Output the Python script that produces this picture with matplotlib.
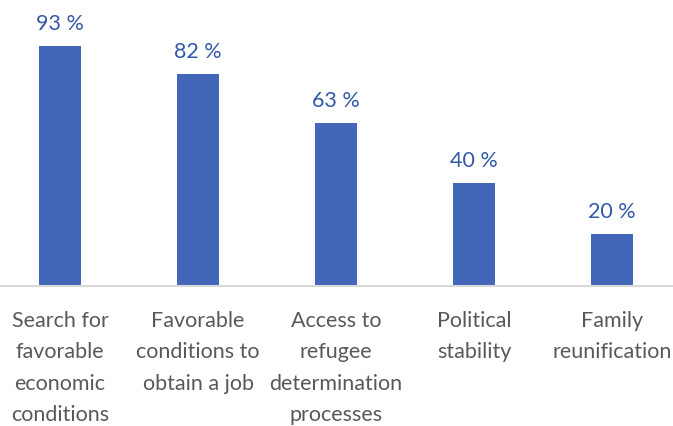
import matplotlib
matplotlib.use("Agg")
import matplotlib.pyplot as plt

categories = ["Search for\nfavorable\neconomic\nconditions",
              "Favorable\nconditions to\nobtain a job",
              "Access to\nrefugee\ndetermination\nprocesses",
              "Political\nstability",
              "Family\nreunification"]
values = [93, 82, 63, 40, 20]
value_labels = ["93 %", "82 %", "63 %", "40 %", "20 %"]

plt.rcParams['font.family'] = ['Lato', 'DejaVu Sans']

fig = plt.figure(figsize=(6.73, 4.27), dpi=100)
ax = fig.add_axes([0, 140/427, 1, 287/427])
x = list(range(len(values)))
ax.bar(x, values, width=0.31, color="#4267B8", zorder=2)
ax.set_xlim(-0.435, 4.442)
ax.set_ylim(0, 111.2)
for xi, v, lab in zip(x, values, value_labels):
    ax.text(xi, v + 5, lab, ha="center", va="bottom", fontsize=15.5,
            color="#3358A8", fontweight="normal")
for s in ["top", "right", "left"]:
    ax.spines[s].set_visible(False)
ax.spines["bottom"].set_color("#D9D9D9")
ax.spines["bottom"].set_linewidth(1.5)
ax.set_yticks([])
ax.set_xticks(x)
ax.set_xticklabels(categories, fontsize=15.5, color="#595959",
                   fontweight="normal", linespacing=1.72)
ax.tick_params(axis="x", length=0, pad=17)
fig.savefig("out.png", dpi=100)
